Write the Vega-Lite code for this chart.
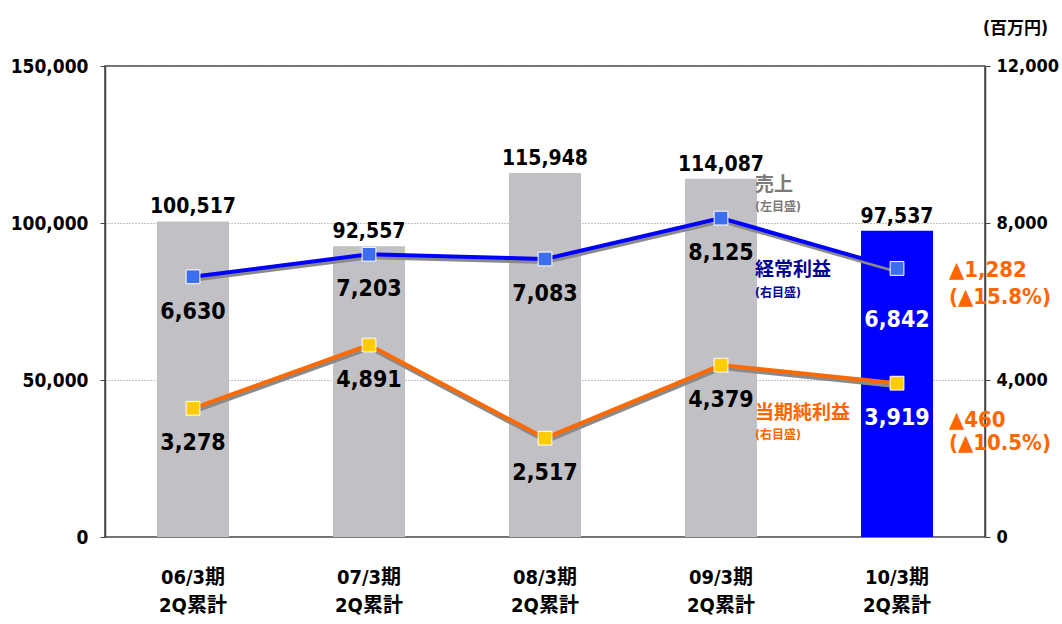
{
  "$schema": "https://vega.github.io/schema/vega-lite/v6.json",
  "width": 880,
  "height": 471,
  "autosize": {"type": "none"},
  "padding": {"left": 105, "top": 66, "right": 77, "bottom": 87},
  "background": "white",
  "config": {
    "font": "DejaVu Sans Condensed, Noto Sans CJK JP, sans-serif",
    "view": {"stroke": "#444", "strokeWidth": 1.5},
    "axis": {"labelFont": "DejaVu Sans Condensed, Noto Sans CJK JP, sans-serif", "labelFontWeight": "bold", "labelColor": "#000", "titleFont": "DejaVu Sans Condensed, Noto Sans CJK JP, sans-serif"}
  },
  "datasets": {
    "sales": [
      {"period": "06/3期", "sales": 100517},
      {"period": "07/3期", "sales": 92557},
      {"period": "08/3期", "sales": 115948},
      {"period": "09/3期", "sales": 114087},
      {"period": "10/3期", "sales": 97537}
    ],
    "profit": [
      {"period": "06/3期", "series": "経常利益", "value": 6630},
      {"period": "07/3期", "series": "経常利益", "value": 7203},
      {"period": "08/3期", "series": "経常利益", "value": 7083},
      {"period": "09/3期", "series": "経常利益", "value": 8125},
      {"period": "10/3期", "series": "経常利益", "value": 6842},
      {"period": "06/3期", "series": "当期純利益", "value": 3278},
      {"period": "07/3期", "series": "当期純利益", "value": 4891},
      {"period": "08/3期", "series": "当期純利益", "value": 2517},
      {"period": "09/3期", "series": "当期純利益", "value": 4379},
      {"period": "10/3期", "series": "当期純利益", "value": 3919}
    ],
    "notes": [
      {"period": "09/3期", "value": 8968, "text": "売上", "kind": "売上", "sub": false},
      {"period": "09/3期", "value": 8408, "text": "(左目盛)", "kind": "売上", "sub": true},
      {"period": "09/3期", "value": 6803, "text": "経常利益", "kind": "経常利益", "sub": false},
      {"period": "09/3期", "value": 6217, "text": "(右目盛)", "kind": "経常利益", "sub": true},
      {"period": "09/3期", "value": 3159, "text": "当期純利益", "kind": "当期純利益", "sub": false},
      {"period": "09/3期", "value": 2599, "text": "(右目盛)", "kind": "当期純利益", "sub": true}
    ],
    "deltas": [
      {"period": "10/3期", "value": 6803, "text": "▲1,282"},
      {"period": "10/3期", "value": 6115, "text": "(▲15.8%)"},
      {"period": "10/3期", "value": 2981, "text": "▲460"},
      {"period": "10/3期", "value": 2395, "text": "(▲10.5%)"}
    ]
  },
  "encoding": {
    "x": {
      "field": "period", "type": "nominal", "sort": null, "title": null,
      "scale": {"paddingInner": 0, "paddingOuter": 0},
      "axis": {"orient": "bottom", "labelAngle": 0, "labelExpr": "[datum.value, '2Q累計']", "labelFontSize": 20, "labelLineHeight": 28, "labelBaseline": "top", "labelPadding": 30, "domain": false, "ticks": false, "grid": false}
    }
  },
  "layer": [
    {
      "data": {"name": "sales"},
      "encoding": {
        "y": {"field": "sales", "type": "quantitative", "title": null,
          "scale": {"domain": [0, 150000]},
          "axis": {"orient": "left", "values": [0, 50000, 100000, 150000], "format": ",.0f", "labelFontSize": 19, "labelPadding": 12, "grid": true, "gridDash": [1, 2], "gridColor": "#888", "domainColor": "#444", "domainWidth": 1.5, "tickColor": "#444", "tickSize": 5}
        }
      },
      "layer": [
        {
          "mark": {"type": "bar", "width": 72},
          "encoding": {
            "color": {"condition": {"test": "datum.period === '10/3期'", "value": "#0000ff"}, "value": "#c1c0c5"}
          }
        },
        {
          "mark": {"type": "text", "baseline": "bottom", "dy": -4, "fontSize": 21, "fontWeight": "bold", "color": "#000"},
          "encoding": {"text": {"field": "sales", "type": "quantitative", "format": ",.0f"}}
        }
      ]
    },
    {
      "encoding": {
        "y": {"field": "value", "type": "quantitative", "title": "(百万円)",
          "scale": {"domain": [0, 12000]},
          "axis": {"orient": "right", "values": [0, 4000, 8000, 12000], "format": ",.0f", "labelFontSize": 18, "labelPadding": 6, "grid": false, "domainColor": "#444", "domainWidth": 1.5, "tickColor": "#444", "tickSize": 5,
            "titleAngle": 0, "titleAlign": "center", "titleBaseline": "middle", "titleX": 30, "titleY": -38, "titleFontSize": 17, "titleFontWeight": "bold", "titleColor": "#000"}
        }
      },
      "layer": [
        {
          "data": {"name": "profit"},
          "layer": [
            {
              "mark": {"type": "line", "strokeWidth": 4, "color": "#8a8a8a", "xOffset": 1, "yOffset": 3},
              "encoding": {"detail": {"field": "series"}}
            },
            {
              "mark": {"type": "line", "strokeWidth": 4},
              "encoding": {
                "detail": {"field": "series"},
                "color": {"condition": {"test": "datum.series === '経常利益'", "value": "#0000ff"}, "value": "#ff6a00"}
              }
            },
            {
              "mark": {"type": "point", "shape": "square", "filled": true, "size": 190, "opacity": 1, "stroke": "#ffffff", "strokeWidth": 1},
              "encoding": {
                "fill": {"condition": {"test": "datum.series === '経常利益'", "value": "#3d6ef0"}, "value": "#ffcc00"}
              }
            },
            {
              "transform": [{"filter": "!(datum.period === '10/3期' && datum.series === '経常利益')"}],
              "mark": {"type": "text", "baseline": "middle", "dy": 35, "fontSize": 23, "fontWeight": "bold"},
              "encoding": {
                "text": {"field": "value", "type": "quantitative", "format": ",.0f"},
                "color": {"condition": {"test": "datum.period === '10/3期'", "value": "#ffffff"}, "value": "#000000"}
              }
            },
            {
              "transform": [{"filter": "datum.period === '10/3期' && datum.series === '経常利益'"}],
              "mark": {"type": "text", "baseline": "middle", "dy": 52, "fontSize": 23, "fontWeight": "bold", "color": "#ffffff"},
              "encoding": {"text": {"field": "value", "type": "quantitative", "format": ",.0f"}}
            }
          ]
        },
        {
          "data": {"name": "notes"},
          "mark": {"type": "text", "align": "left", "baseline": "middle", "dx": 34, "fontWeight": "bold"},
          "encoding": {
            "text": {"field": "text"},
            "size": {"condition": {"test": "datum.sub", "value": 12}, "value": 19},
            "color": {"condition": [
              {"test": "datum.kind === '売上'", "value": "#7a7a7a"},
              {"test": "datum.kind === '経常利益'", "value": "#000099"}
            ], "value": "#ff6600"}
          }
        },
        {
          "data": {"name": "deltas"},
          "mark": {"type": "text", "align": "left", "baseline": "middle", "dx": 52, "fontSize": 22, "fontWeight": "bold", "color": "#ff6600"},
          "encoding": {"text": {"field": "text"}}
        }
      ]
    }
  ],
  "resolve": {"scale": {"y": "independent"}}
}
